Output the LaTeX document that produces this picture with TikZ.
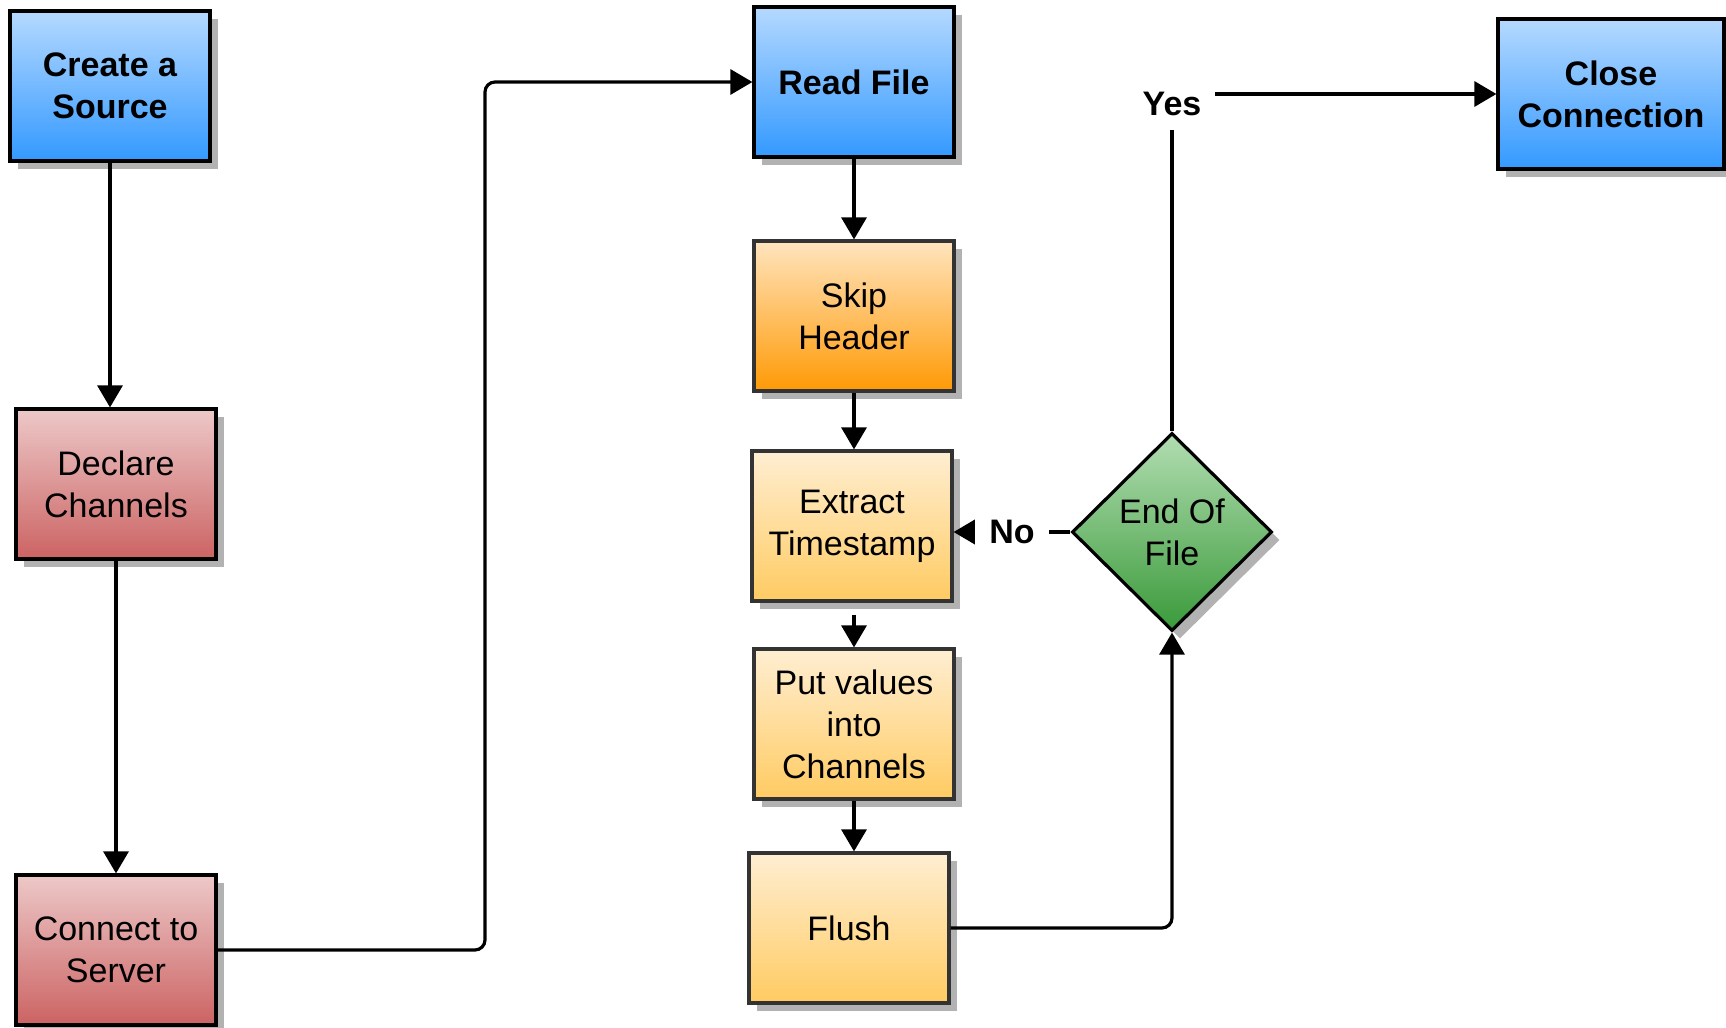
\documentclass[tikz,border=0pt]{standalone}
\usepackage{fontspec}
\setmainfont{Liberation Sans}
\usepackage{xcolor}
\usetikzlibrary{positioning,shapes,shadows,arrows.meta}

\definecolor{bluetop}{HTML}{B5D9FF}
\definecolor{bluebot}{HTML}{3399FF}
\definecolor{redtop}{HTML}{EDC8C8}
\definecolor{redbot}{HTML}{CC6363}
\definecolor{orangetop}{HTML}{FFE4BE}
\definecolor{orangebot}{HTML}{FF9A05}
\definecolor{sandtop}{HTML}{FFEED2}
\definecolor{sandbot}{HTML}{FFCB62}
\definecolor{greentop}{HTML}{B2DDB2}
\definecolor{greenbot}{HTML}{3A9A3A}
\newcommand{\boxfont}{\fontsize{17pt}{21pt}\selectfont}

\begin{document}
\begin{tikzpicture}[x=0.5pt, y=-0.5pt,
			every node/.style = {align=center, font=\boxfont},
			box/.style = {shape=rectangle, draw=black, line width=1.6pt,
				minimum width=100pt, minimum height=75pt,
				drop shadow={shadow xshift=4pt, shadow yshift=-4pt, fill=black!30, opacity=1}},
			bluebox/.style = {box, top color=bluetop, bottom color=bluebot, font=\boxfont\bfseries},
			redbox/.style = {box, top color=redtop, bottom color=redbot},
			orangebox/.style = {box, draw=black!80, top color=orangetop, bottom color=orangebot},
			sandbox/.style = {box, draw=black!80, top color=sandtop, bottom color=sandbot},
			decision/.style = {shape=diamond, aspect=1, draw=black, line width=1.6pt,
				inner sep=0pt, minimum width=100pt, minimum height=99pt,
				top color=greentop, bottom color=greenbot,
				drop shadow={shadow xshift=4pt, shadow yshift=-4pt, fill=black!30, opacity=1}},
			conn/.style = {draw, line width=1.6pt, -{Triangle[length=11pt,width=12.5pt]}},
			lbl/.style = {fill=white, inner sep=7pt, font=\boxfont\bfseries}]
			\useasboundingbox (0,0) rectangle (1726,1028);
			% left column
			\node[bluebox] (source) at (110,86) {Create a\\Source};
			\node[redbox] (declare) at (116,484) {Declare\\Channels};
			\node[redbox] (connect) at (116,950) {Connect to\\Server};
			% middle column
			\node[bluebox] (read) at (854,82) {Read File};
			\node[orangebox] (skip) at (854,316) {Skip\\Header};
			\node[sandbox] (extract) at (852,526) {Extract\\Timestamp};
			\node[sandbox] (put) at (854,724) {Put values\\into\\Channels};
			\node[sandbox] (flush) at (849,928) {Flush};
			% right side
			\node[decision] (eof) at (1172,532) {End Of\\File};
			\node[bluebox, minimum width=113pt] (close) at (1611,94) {Close\\Connection};
			\coordinate (bend) at (485,500);

			\draw[conn] (source) -- (source |- declare.north);
			\draw[conn] (declare) -- (connect);
			\draw[conn, rounded corners=5pt] (connect.east) -- (connect.east -| bend)
				-- (bend |- read.west) -- (read.west);
			\draw[conn] (read) -- (skip);
			\draw[conn] (skip) -- (extract.north -| skip);
			\draw[conn, shorten <=6pt] (extract.south -| put) -- (put);
			\draw[conn] (put) -- (put.south |- flush.north);
			\draw[conn, rounded corners=5pt] (flush.east) -| (eof.south);
			\draw[conn] (eof.west) -- node[lbl] {No} (eof.west -| extract.east);
			\draw[conn] (eof.north) |- node[lbl, pos=0.5, yshift=-5pt] {Yes} (close.west);
\end{tikzpicture}
\end{document}
